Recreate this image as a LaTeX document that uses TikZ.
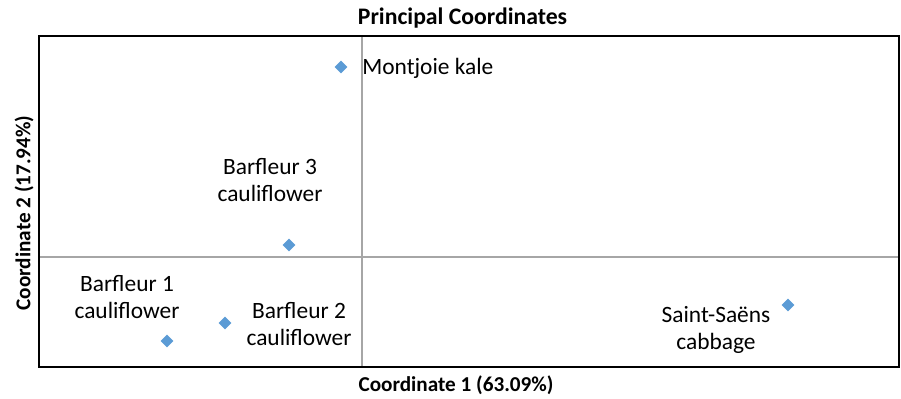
\documentclass[tikz,border=0pt]{standalone}
\usepackage{fontspec}
\setmainfont{Carlito}
\usetikzlibrary{shapes.geometric}
\definecolor{marker}{HTML}{5B9BD5}
\definecolor{zeroline}{HTML}{A6A6A6}
\tikzset{
  pt/.style={diamond,fill=marker,inner sep=0pt,minimum size=6.5pt},
  lbl/.style={align=center,inner sep=0pt,font=\fontsize{11.7}{13.5}\selectfont},
  axtitle/.style={inner sep=0pt,font=\bfseries\fontsize{10.6}{12}\selectfont},
  frame/.style={draw=black,line width=1pt},
  zero/.style={draw=zeroline,line width=0.6pt}
}
\begin{document}
\begin{tikzpicture}[x=0.5pt,y=-0.5pt]
\useasboundingbox (0,0) rectangle (901,398);
% plot area
\draw[zero] (362,36) -- (362,367);
\draw[zero] (39,257) -- (899,257);
\draw[frame] (39,36) rectangle (899,367);

% titles
\node[axtitle,font=\bfseries\fontsize{11.85}{14}\selectfont] (title) at (462.5,18) {Principal Coordinates};
\node[axtitle] (xtitle) at (456,385) {Coordinate 1 (63.09\%)};
\node[axtitle,rotate=90] (ytitle) at (24,213) {Coordinate 2 (17.94\%)};

% samples
\node[pt] (montjoie) at (341,67) {};
\node[pt] (barfleur3) at (289,245) {};
\node[pt] (barfleur1) at (167,341) {};
\node[pt] (barfleur2) at (225,323) {};
\node[pt] (saintsaens) at (788,305) {};

\node[lbl,anchor=west] (montjoie-lbl) at (362,68) {Montjoie kale};
\node[lbl] (barfleur3-lbl) at (270,180) {Barfleur 3\\cauliflower};
\node[lbl] (barfleur1-lbl) at (127,297) {Barfleur 1\\cauliflower};
\node[lbl] (barfleur2-lbl) at (299,324) {Barfleur 2\\cauliflower};
\node[lbl] (saintsaens-lbl) at (716,330) {Saint-Saëns\\cabbage};
\end{tikzpicture}
\end{document}
